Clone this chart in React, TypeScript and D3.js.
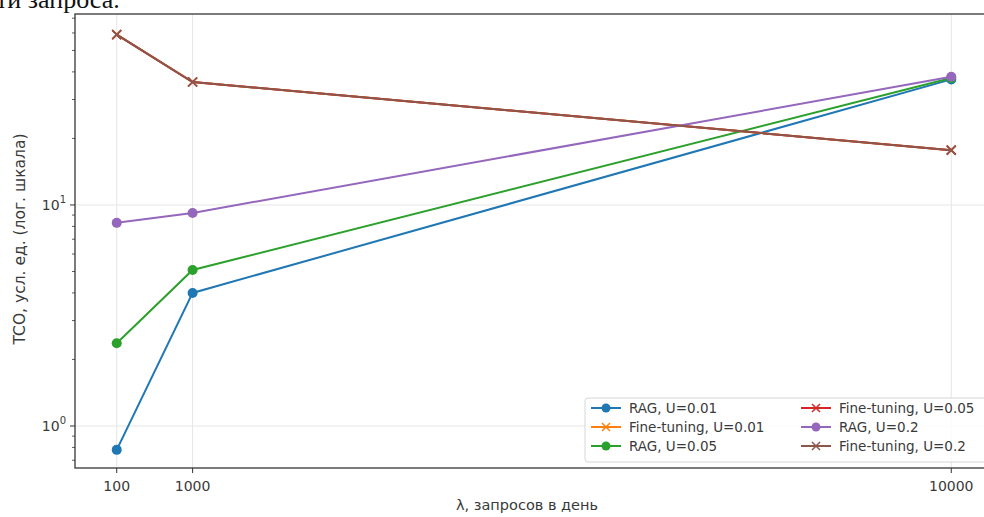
import React, { useEffect, useRef } from 'react';
import * as d3 from 'd3';

// requests per day
const lambdas = [100, 1000, 10000];

const ragU001 = [0.78, 4.0, 37];
const ftU001 = [59, 36, 17.7];
const ragU005 = [2.37, 5.08, 37.5];
const ftU005 = [59, 36, 17.7];
const ragU02 = [8.3, 9.2, 38];
const ftU02 = [59, 36, 17.7];

const seriesNames = [
  'RAG, U=0.01',
  'Fine-tuning, U=0.01',
  'RAG, U=0.05',
  'Fine-tuning, U=0.05',
  'RAG, U=0.2',
  'Fine-tuning, U=0.2',
];
const seriesValues = [ragU001, ftU001, ragU005, ftU005, ragU02, ftU02];
const seriesColors = ['#1f77b4', '#ff7f0e', '#2ca02c', '#d62728', '#9467bd', '#8c564b'];
const seriesMarkers = ['o', 'x', 'o', 'x', 'o', 'x'];

const xTicks = [100, 1000, 10000];
const yTicks = [1, 10];

const App: React.FC = () => {
  const svgRef = useRef<SVGSVGElement>(null);

  useEffect(() => {
    if (!svgRef.current) return;
    const root = d3.select(svgRef.current);
    root.selectAll('*').remove();

    const width = 984;
    const height = 517;
    const left = 75, right = 993, top = 14, bottom = 468;

    root.attr('width', width).attr('height', height);

    // page text above the figure (cut off in the screenshot)
    root.append('text')
      .attr('x', -4)
      .attr('y', 8)
      .attr('font-family', '"Liberation Serif", "Times New Roman", serif')
      .attr('font-size', 26)
      .attr('fill', '#111')
      .text('ти запроса.');

    const x = d3.scaleLinear().domain([-395, 10495]).range([left, right]);
    const y = d3.scaleLog().domain([Math.pow(10, -0.19), Math.pow(10, 1.864)]).range([bottom, top]);

    const font = '"DejaVu Sans", sans-serif';
    const ink = '#3a3a3a';

    // grid
    const grid = root.append('g');
    xTicks.forEach(t => {
      grid.append('line')
        .attr('x1', x(t)).attr('x2', x(t))
        .attr('y1', top).attr('y2', bottom)
        .attr('stroke', '#e6e6e6').attr('stroke-width', 1);
    });
    yTicks.forEach(t => {
      grid.append('line')
        .attr('x1', left).attr('x2', right)
        .attr('y1', y(t)).attr('y2', y(t))
        .attr('stroke', '#e6e6e6').attr('stroke-width', 1);
    });

    // lines + markers
    const line = d3.line<number>()
      .x((d, i) => x(lambdas[i]))
      .y(d => y(d));

    seriesValues.forEach((vals, s) => {
      const color = seriesColors[s];
      root.append('path')
        .datum(vals)
        .attr('d', line)
        .attr('fill', 'none')
        .attr('stroke', color)
        .attr('stroke-width', 2);

      const g = root.append('g');
      vals.forEach((v, i) => {
        const cx = x(lambdas[i]);
        const cy = y(v);
        if (seriesMarkers[s] === 'o') {
          g.append('circle').attr('cx', cx).attr('cy', cy).attr('r', 5).attr('fill', color);
        } else {
          const r = 4.5;
          g.append('path')
            .attr('d', `M${cx - r},${cy - r}L${cx + r},${cy + r}M${cx - r},${cy + r}L${cx + r},${cy - r}`)
            .attr('stroke', color)
            .attr('stroke-width', 1.6);
        }
      });
    });

    // spines
    root.append('rect')
      .attr('x', left).attr('y', top)
      .attr('width', right - left).attr('height', bottom - top)
      .attr('fill', 'none')
      .attr('stroke', '#444').attr('stroke-width', 1.4);

    // x ticks
    xTicks.forEach(t => {
      root.append('line')
        .attr('x1', x(t)).attr('x2', x(t))
        .attr('y1', bottom).attr('y2', bottom + 5)
        .attr('stroke', '#333');
      root.append('text')
        .attr('x', x(t)).attr('y', bottom + 23)
        .attr('text-anchor', 'middle')
        .attr('font-family', font).attr('font-size', 14)
        .attr('fill', ink)
        .text(String(t));
    });

    // y ticks (major + minor)
    const [d0, d1] = y.domain();
    for (let e = -1; e <= 1; e++) {
      for (let m = 1; m <= 9; m++) {
        const v = m * Math.pow(10, e);
        if (v < d0 || v > d1) continue;
        const major = m === 1;
        root.append('line')
          .attr('x1', left - (major ? 5 : 3)).attr('x2', left)
          .attr('y1', y(v)).attr('y2', y(v))
          .attr('stroke', '#333')
          .attr('stroke-width', major ? 1 : 0.8);
      }
    }
    yTicks.forEach(t => {
      const txt = root.append('text')
        .attr('x', left - 9).attr('y', y(t) + 5)
        .attr('text-anchor', 'end')
        .attr('font-family', font).attr('font-size', 14)
        .attr('fill', ink);
      txt.append('tspan').text('10');
      txt.append('tspan').attr('dy', -7).attr('font-size', 10).text(String(Math.round(Math.log10(t))));
    });

    // axis labels
    root.append('text')
      .attr('x', (left + right) / 2 - 7).attr('y', 510)
      .attr('text-anchor', 'middle')
      .attr('font-family', font).attr('font-size', 14.5)
      .attr('fill', ink)
      .text('λ, запросов в день');

    root.append('text')
      .attr('transform', `translate(25,${(top + bottom) / 2 - 2}) rotate(-90)`)
      .attr('text-anchor', 'middle')
      .attr('font-family', font).attr('font-size', 15.5)
      .attr('fill', ink)
      .text('TCO, усл. ед. (лог. шкала)');

    // legend
    const lg = root.append('g').attr('transform', 'translate(585,398)');
    lg.append('rect')
      .attr('width', 405).attr('height', 64)
      .attr('rx', 3)
      .attr('fill', 'white').attr('fill-opacity', 0.85)
      .attr('stroke', '#d6d6d6');

    seriesNames.forEach((name, s) => {
      const col = Math.floor(s / 3);
      const row = s % 3;
      const lx = 6 + col * 210;
      const ly = 10 + row * 19;
      const color = seriesColors[s];
      lg.append('line')
        .attr('x1', lx).attr('x2', lx + 30)
        .attr('y1', ly).attr('y2', ly)
        .attr('stroke', color).attr('stroke-width', 2);
      if (seriesMarkers[s] === 'o') {
        lg.append('circle').attr('cx', lx + 15).attr('cy', ly).attr('r', 4.5).attr('fill', color);
      } else {
        const r = 4;
        lg.append('path')
          .attr('d', `M${lx + 15 - r},${ly - r}L${lx + 15 + r},${ly + r}M${lx + 15 - r},${ly + r}L${lx + 15 + r},${ly - r}`)
          .attr('stroke', color).attr('stroke-width', 1.5);
      }
      lg.append('text')
        .attr('x', lx + 38).attr('y', ly + 5)
        .attr('font-family', font).attr('font-size', 13.5)
        .attr('fill', ink)
        .text(name);
    });
  }, []);

  return (
    <div style={{ position: 'absolute', left: 0, top: 0, width: 984, height: 517, overflow: 'hidden', background: 'white' }}>
      <svg ref={svgRef}></svg>
    </div>
  );
};

export default App;
